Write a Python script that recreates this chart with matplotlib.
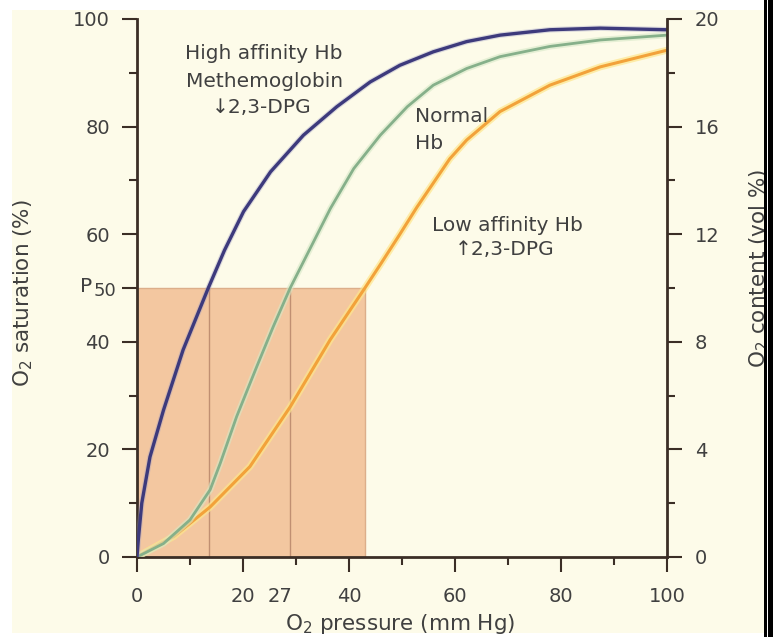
import matplotlib
matplotlib.use("Agg")
import matplotlib.pyplot as plt
import matplotlib.patheffects as pe
from matplotlib.patches import Rectangle

plt.rcParams['font.family'] = ['DejaVu Sans']

# ---------------- data ----------------
high_x = [0, 0.25, 0.9, 2.45, 5.0, 8.7, 13.45, 16.5, 20.1, 25.2, 31.4, 37.7, 44.0, 49.6, 55.9, 62.2, 68.5, 77.9, 87.4, 100]
high_y = [0, 3.2, 10.0, 18.6, 27.3, 38.5, 50.0, 57.0, 64.2, 71.6, 78.4, 83.7, 88.3, 91.4, 93.9, 95.8, 97.0, 98.0, 98.3, 98.0]

normal_x = [0, 5.0, 10.0, 13.8, 15.7, 18.8, 22.6, 25.7, 28.9, 32.7, 36.5, 40.9, 45.9, 51.0, 55.9, 62.2, 68.5, 77.9, 87.4, 100]
normal_y = [0, 2.5, 6.9, 12.5, 17.4, 26.1, 35.4, 42.8, 50.0, 57.4, 64.8, 72.2, 78.4, 83.7, 87.7, 90.8, 93.0, 94.9, 96.1, 97.0]

low_x = [0, 1.2, 6.9, 13.8, 21.3, 28.9, 36.4, 43.0, 46.0, 49.6, 52.8, 55.9, 59.0, 62.2, 68.5, 77.9, 87.4, 100]
low_y = [0, 0.7, 3.8, 9.3, 16.8, 27.9, 40.3, 50.0, 54.5, 60.0, 65.0, 69.5, 74.0, 77.5, 82.8, 87.7, 91.1, 94.2]

p50_values = [13.5, 28.9, 43.0]        # P50 of high-affinity, normal, low-affinity Hb
p50_level = 50

x_ticks = [0, 20, 27, 40, 60, 80, 100]
x_tick_labels = ["0", "20", "27", "40", "60", "80", "100"]
x_minor = [10, 30, 50, 70, 90]
y_ticks = [0, 20, 40, 50, 60, 80, 100]
y_tick_labels = ["0", "20", "40", "", "60", "80", "100"]
y_minor = [10, 30, 70, 90]
y2_ticks = [0, 4, 8, 12, 16, 20]
y2_minor = [2, 6, 10, 14, 18]

# ---------------- styling ----------------
cream = "#fdfbe9"
spine_c = "#3b2e26"
text_c = "#404040"
blue_c = "#3d3a7c"
green_c = "#86b08a"
orange_c = "#f2a23a"
shade_c = "#f3c7a0"
vline_c = "#c08f72"

W, H = 773, 637
fig = plt.figure(figsize=(W / 100, H / 100), dpi=100)
fig.patch.set_facecolor("white")

# cream background
fig.add_artist(Rectangle((12 / W, 1 - 633 / H), (764 - 12) / W, (633 - 10) / H,
                         transform=fig.transFigure, facecolor=cream,
                         edgecolor="none", zorder=-5))
# black frame on the right edge
fig.add_artist(Rectangle((764 / W, 0), 9 / W, 1, transform=fig.transFigure,
                         facecolor="black", edgecolor="none", zorder=20))
fig.add_artist(Rectangle((766.5 / W, 0), 1.5 / W, 1, transform=fig.transFigure,
                         facecolor="white", edgecolor="none", zorder=21))

x0, x1 = 137, 667
y0, y1 = 557, 19
ax = fig.add_axes([x0 / W, 1 - y0 / H, (x1 - x0) / W, (y0 - y1) / H])
ax.patch.set_alpha(0)
ax.set_xlim(0, 100)
ax.set_ylim(0, 100)

# shaded P50 region
ax.add_patch(Rectangle((0, 0), p50_values[2], p50_level, facecolor=shade_c,
                       edgecolor="#dcae8a", linewidth=1.0, zorder=1))
for v in p50_values[:2]:
    ax.plot([v, v], [0, p50_level], color=vline_c, linewidth=1.0, zorder=2)

# curves
def halo(c, a=0.55, w=5):
    return [pe.Stroke(linewidth=w, foreground=c, alpha=a), pe.Normal()]

common = dict(solid_capstyle="round", solid_joinstyle="round")
ax.plot(low_x, low_y, color=orange_c, linewidth=2.2, zorder=3,
        path_effects=halo("#fde68c", 0.7, 5), **common)
ax.plot(normal_x, normal_y, color=green_c, linewidth=2.0, zorder=4,
        path_effects=halo("#d6e8c6", 0.6, 4.5), **common)
ax.plot(high_x, high_y, color=blue_c, linewidth=2.4, zorder=5,
        path_effects=halo("#9c9bc4", 0.35, 4), **common)

# spines
for s in ["left", "bottom"]:
    ax.spines[s].set_color(spine_c)
    ax.spines[s].set_linewidth(2.0)
ax.spines["top"].set_visible(False)
ax.spines["right"].set_visible(False)

ax.set_xticks(x_ticks)
ax.set_xticklabels(x_tick_labels)
ax.set_xticks(x_minor, minor=True)
ax.set_yticks(y_ticks)
ax.set_yticklabels(y_tick_labels)
ax.set_yticks(y_minor, minor=True)
ax.tick_params(axis="both", which="major", direction="out", length=11, width=1.5,
               color=spine_c, labelsize=14, labelcolor=text_c)
ax.tick_params(axis="y", which="major", pad=8.5)
ax.tick_params(axis="x", which="major", pad=10.5)
ax.tick_params(axis="both", which="minor", direction="out", length=6, width=1.5,
               color=spine_c)
ax.xaxis.get_major_ticks()[2].tick1line.set_visible(False)

# P50 label
ax.annotate("P", xy=(0, p50_level), xycoords="data", xytext=(-41, 1),
            textcoords="offset points", ha="left", va="center", fontsize=14.5,
            color=text_c)
ax.annotate("50", xy=(0, p50_level), xycoords="data", xytext=(-31.5, -2.5),
            textcoords="offset points", ha="left", va="center", fontsize=13,
            color=text_c)

ax2 = ax.twinx()
ax2.set_ylim(0, 20)
ax2.patch.set_alpha(0)
for s in ["left", "top", "bottom"]:
    ax2.spines[s].set_visible(False)
ax2.spines["right"].set_color(spine_c)
ax2.spines["right"].set_linewidth(2.0)
ax2.set_yticks(y2_ticks)
ax2.set_yticks(y2_minor, minor=True)
ax2.tick_params(axis="y", which="major", direction="out", length=11, width=1.5,
                color=spine_c, labelsize=14, labelcolor=text_c, pad=9)
ax2.tick_params(axis="y", which="minor", direction="out", length=6, width=1.5,
                color=spine_c)

# annotations
ax.text(24, 93.5, "High affinity Hb", ha="center", va="center", fontsize=14.5, color=text_c)
ax.text(24, 88.3, "Methemoglobin", ha="center", va="center", fontsize=14.5, color=text_c)
ax.text(23.5, 83.5, "\u21932,3-DPG", ha="center", va="center", fontsize=14.5, color=text_c)
ax.text(52.5, 81.8, "Normal", ha="left", va="center", fontsize=14.5, color=text_c)
ax.text(52.5, 76.8, "Hb", ha="left", va="center", fontsize=14.5, color=text_c)
ax.text(69.8, 61.7, "Low affinity Hb", ha="center", va="center", fontsize=14.5, color=text_c)
ax.text(69.3, 57.2, "\u21912,3-DPG", ha="center", va="center", fontsize=14.5, color=text_c)

# axis labels
fig.text(23 / W, 1 - 293 / H, "O$_2$ saturation (%)", rotation=90, ha="center",
         va="center", fontsize=15.5, color=text_c)
fig.text(759 / W, 1 - 268 / H, "O$_2$ content (vol %)", rotation=90, ha="center",
         va="center", fontsize=15.5, color=text_c)
fig.text(400 / W, 1 - 624 / H, "O$_2$ pressure (mm Hg)", ha="center",
         va="center", fontsize=15.5, color=text_c)

fig.savefig("out.png", dpi=100, facecolor=fig.get_facecolor())
